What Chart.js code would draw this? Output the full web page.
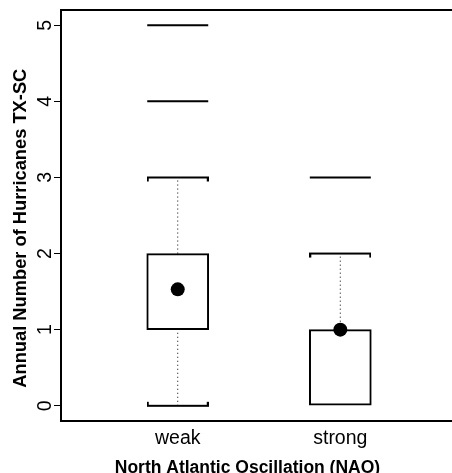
<!DOCTYPE html>
<html>
<head>
<meta charset="utf-8">
<script src="https://cdn.jsdelivr.net/npm/chart.js@4.4.1/dist/chart.umd.min.js"></script>
<style>
  body { margin: 0; background: #fff; }
  #wrap { width: 452px; height: 473px; overflow: hidden; }
</style>
</head>
<body>
<div id="wrap"><canvas id="myChart" width="452" height="473"></canvas></div>
<script>
// box plot values
const categories = ['weak', 'strong'];
const lowerWhisker = [0, 0];
const lowerQuartile = [1, 0];
const upperQuartile = [2, 1];
const upperWhisker = [3, 2];
const means = [1.53, 1];
const outliers = [[4, 5], [3]];
const yTicks = [0, 1, 2, 3, 4, 5];

const FONT = "'Liberation Sans', Arial, Helvetica, sans-serif";

// staple with small hooks at both ends (dir 1 = hooks down, -1 = hooks up)
const capImage = (dir) => {
    const c = document.createElement('canvas');
    c.width = 62;
    c.height = 12;
    const g = c.getContext('2d');
    g.strokeStyle = '#000';
    g.lineWidth = 2;
    g.beginPath();
    g.moveTo(1, 6 + dir * 4);
    g.lineTo(1, 6);
    g.lineTo(61, 6);
    g.lineTo(61, 6 + dir * 4);
    g.stroke();
    return c;
};

const xPos = categories.map((c, i) => i + 1);

const datasets = [];

datasets.push({
    type: 'scatter',
    label: 'mean',
    data: xPos.map((x, i) => ({x: x, y: means[i]})),
    pointRadius: 7,
    pointHoverRadius: 7,
    backgroundColor: '#000',
    borderWidth: 0,
    order: 0
});

datasets.push({
    type: 'bar',
    label: 'box',
    data: xPos.map((x, i) => ({x: x, y: [lowerQuartile[i], upperQuartile[i]]})),
    backgroundColor: '#fff',
    borderColor: '#000',
    borderWidth: 2,
    borderSkipped: false,
    barThickness: 62,
    order: 3
});

xPos.forEach((x, i) => {
    const segs = [[lowerWhisker[i], lowerQuartile[i]], [upperQuartile[i], upperWhisker[i]]];
    segs.forEach(s => {
        if (s[0] === s[1]) return;
        datasets.push({
            type: 'line',
            label: 'whisker',
            data: [{x: x, y: s[0]}, {x: x, y: s[1]}],
            borderColor: '#000',
            borderWidth: 1,
            borderDash: [1, 3],
            pointRadius: 0,
            order: 4
        });
    });
});

datasets.push({
    type: 'scatter',
    label: 'upper staple',
    data: xPos.filter((x, i) => upperWhisker[i] !== upperQuartile[i]).map(x => ({x: x, y: upperWhisker[x - 1]})),
    pointStyle: capImage(1),
    borderWidth: 0,
    order: 2
});

datasets.push({
    type: 'scatter',
    label: 'lower staple',
    data: xPos.filter((x, i) => lowerWhisker[i] !== lowerQuartile[i]).map(x => ({x: x, y: lowerWhisker[x - 1]})),
    pointStyle: capImage(-1),
    borderWidth: 0,
    order: 2
});

const outlierPts = [];
outliers.forEach((list, i) => list.forEach(v => outlierPts.push({x: xPos[i], y: v})));
datasets.push({
    type: 'scatter',
    label: 'outliers',
    data: outlierPts,
    pointStyle: 'line',
    pointRadius: 30.5,
    pointHoverRadius: 30.5,
    borderColor: '#000',
    borderWidth: 2,
    order: 2
});

// top edge of the plot frame (the right side is open, as in the original crop)
const frameTop = {
    id: 'frameTop',
    afterDraw(chart) {
        const {ctx, chartArea} = chart;
        ctx.save();
        ctx.fillStyle = '#fff';
        ctx.fillRect(chartArea.right - 1.5, chartArea.top, 4, chartArea.bottom - chartArea.top - 1);
        ctx.strokeStyle = '#000';
        ctx.lineWidth = 2;
        ctx.beginPath();
        ctx.moveTo(chartArea.left, chartArea.top);
        ctx.lineTo(chartArea.right + 2, chartArea.top);
        ctx.stroke();
        ctx.restore();
    }
};

const noPad = s => {
    s.paddingTop = 0;
    s.paddingBottom = 0;
    s.paddingLeft = 0;
    s.paddingRight = 0;
};

const ctx = document.getElementById('myChart').getContext('2d');
const myChart = new Chart(ctx, {
    type: 'bar',
    data: { datasets: datasets },
    options: {
        responsive: false,
        animation: false,
        layout: { autoPadding: false, padding: { top: 10, right: 0, left: 0, bottom: 0 } },
        plugins: {
            legend: { display: false },
            tooltip: { enabled: false }
        },
        scales: {
            x: {
                type: 'linear',
                offset: false,
                min: 0.282,
                max: 2.687,
                afterFit: s => { s.height = 52; noPad(s); },
                afterBuildTicks: s => { s.ticks = xPos.map(v => ({value: v})); },
                grid: { display: false },
                border: { display: true, color: '#000', width: 2 },
                ticks: {
                    color: '#000',
                    padding: -2,
                    font: { family: FONT, size: 19.5 },
                    callback: v => categories[v - 1],
                    maxRotation: 0,
                    autoSkip: false
                },
                title: {
                    display: true,
                    text: 'North Atlantic Oscillation (NAO)   \u2009',
                    color: '#000',
                    font: { family: FONT, size: 17.5, weight: 'bold' },
                    padding: { top: 0, bottom: -6 }
                }
            },
            y: {
                min: -0.2,
                max: 5.2,
                afterFit: s => { s.width = 61; noPad(s); },
                afterBuildTicks: s => { s.ticks = yTicks.map(v => ({value: v})); },
                grid: {
                    drawOnChartArea: false,
                    drawTicks: true,
                    tickLength: 7,
                    tickColor: '#000',
                    tickWidth: 1
                },
                border: { display: true, color: '#000', width: 2 },
                ticks: {
                    color: '#000',
                    padding: 2.5,
                    minRotation: 90,
                    maxRotation: 90,
                    crossAlign: 'center',
                    font: { family: FONT, size: 19.5 }
                },
                title: {
                    display: true,
                    text: 'Annual Number of Hurricanes TX-SC     ',
                    color: '#000',
                    font: { family: FONT, size: 18.3, weight: 'bold' },
                    padding: { top: 9.7, bottom: 0 }
                }
            }
        }
    },
    plugins: [frameTop]
});
</script>
</body>
</html>
